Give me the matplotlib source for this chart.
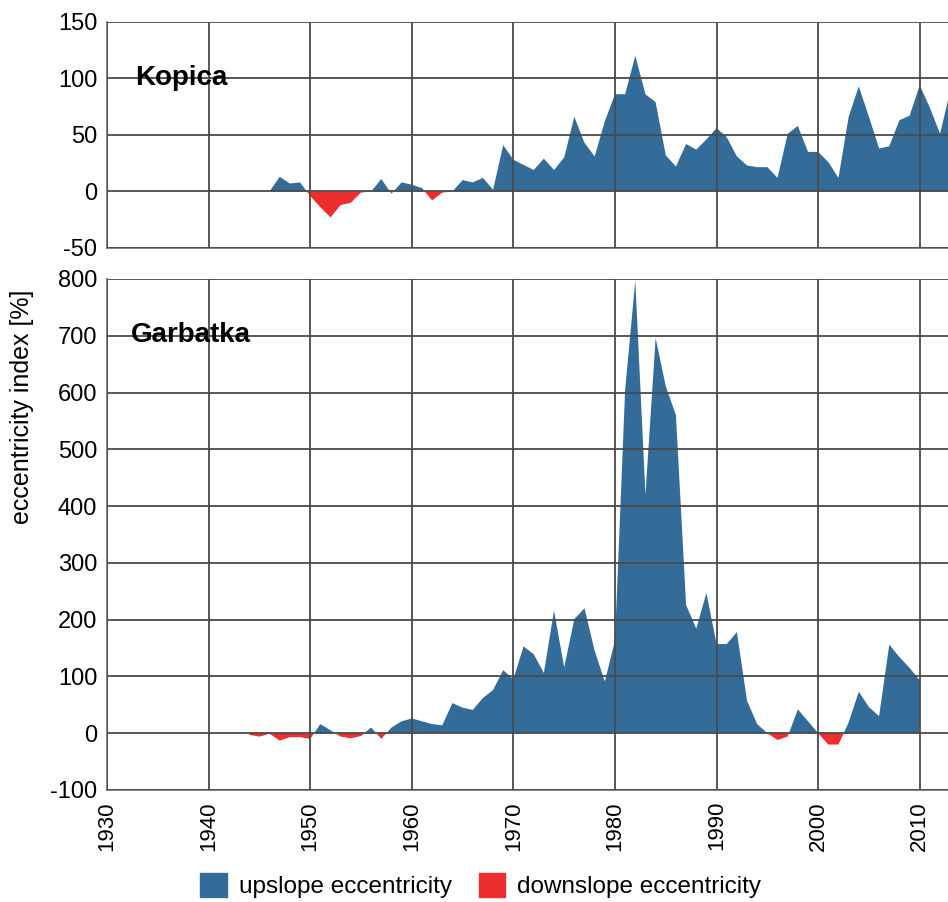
import numpy as np
import matplotlib
matplotlib.use('Agg')
import matplotlib.pyplot as plt
from matplotlib.patches import Patch

plt.rcParams['font.family'] = ['Liberation Sans', 'DejaVu Sans']
plt.rcParams['axes.unicode_minus'] = False

# Kopica site, yearly eccentricity index [%]
kopica_years = np.arange(1946, 2014)
kopica_vals = np.array([
    0, 13, 7, 8, -4, -14, -23, -12, -10, -1,
    0, 11, -2, 8, 6, 3, -8, -1, 0, 10,
    8, 12, 1.5, 41, 28, 23.5, 19, 29, 19, 30,
    66, 43, 31, 62, 86, 86, 120, 86, 79, 32,
    22, 42, 37, 46, 56, 48, 31, 23, 21.5, 21.5,
    12, 51, 58, 35, 35, 26, 12, 66, 93, 66,
    38, 40, 63, 67, 94, 74, 51, 89])

# Garbatka site
garbatka_years = np.arange(1944, 2011)
garbatka_vals = np.array([
    -3, -6, -1, -13, -7, -7, -10, 16, 5, -6,
    -9, -5, 10, -10, 10, 21, 26, 21, 16, 14,
    53, 45, 41, 62, 76, 111, 95, 153, 139, 106,
    216, 116, 201, 220, 145, 91, 163, 605, 797, 420,
    696, 611, 560, 226, 184, 247, 157, 157, 178, 57,
    16, 0, -12, -6, 42, 21, 0, -20, -20, 19,
    73, 46, 30, 156, 134, 115, 93])

decades = np.arange(1930, 2011, 10)
up_col = '#336b99'
down_col = '#ee2e2e'
grid_col = '#4a4a4a'

fig = plt.figure(figsize=(9.48, 9.02), dpi=100)
ax1 = fig.add_axes([0.1129, 0.7251, 0.8871, 0.2506])
ax2 = fig.add_axes([0.1129, 0.1242, 0.8871, 0.5665])


def draw_panel(ax, yrs, vals, ylim, yticks, name, name_x, name_y):
    ax.fill_between(yrs, vals, 0, where=vals >= 0, interpolate=True,
                    color=up_col, lw=0)
    ax.fill_between(yrs, vals, 0, where=vals <= 0, interpolate=True,
                    color=down_col, lw=0)
    ax.set_xlim(1930, 2012.78)
    ax.set_ylim(*ylim)
    ax.set_xticks(decades)
    ax.set_yticks(yticks)
    ax.set_axisbelow(False)
    ax.grid(True, color=grid_col, lw=1.3)
    for s in ['top', 'right']:
        ax.spines[s].set_visible(False)
    for s in ['left', 'bottom']:
        ax.spines[s].set_color('#777777')
        ax.spines[s].set_linewidth(1.3)
    ax.tick_params(length=0, pad=7, labelsize=17)
    ax.text(name_x, name_y, name, transform=ax.transAxes, fontsize=20,
            fontweight='bold', va='center', ha='left')


draw_panel(ax1, kopica_years, kopica_vals, (-50, 150), np.arange(-50, 151, 50),
           'Kopica', 0.033, 0.752)
ax1.tick_params(axis='x', labelbottom=False)

draw_panel(ax2, garbatka_years, garbatka_vals, (-100, 800),
           np.arange(-100, 801, 100), 'Garbatka', 0.028, 0.89)
ax2.set_xticks(decades)
ax2.set_xticklabels([str(d) for d in decades], rotation=90, fontsize=16)
ax2.tick_params(axis='x', pad=8)

fig.text(0.023, 0.549, 'eccentricity index [%]', rotation=90,
         fontsize=18, va='center', ha='center')

handles = [Patch(color=up_col, label='upslope eccentricity'),
           Patch(color=down_col, label='downslope eccentricity')]
fig.legend(handles=handles, loc='lower center', bbox_to_anchor=(0.507, -0.02),
           ncol=2, frameon=False, fontsize=17.5, handlelength=1.1,
           handleheight=1.1, columnspacing=1.1, handletextpad=0.5)

fig.savefig('out.png', dpi=100)
